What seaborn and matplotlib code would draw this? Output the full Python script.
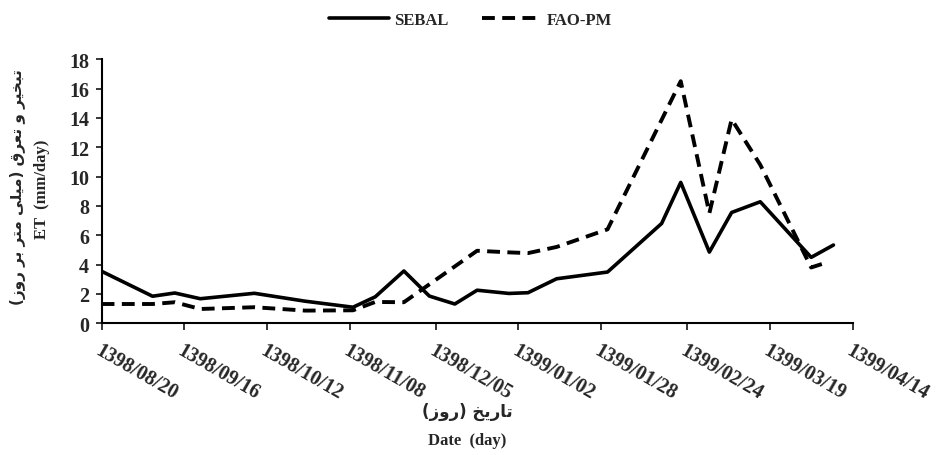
# =========================
# IMPORT LIBRARIES
# =========================

import pandas as pd
import matplotlib.pyplot as plt
import seaborn as sns

# =========================
# DATA (days after 1398/08/20)
# =========================

sebal_days = [0, 16, 23, 31, 48, 64, 79, 86, 95, 103, 111, 118, 128,
              134, 143, 159, 176, 182, 191, 198, 207, 223, 230]
sebal_et = [3.54, 1.84, 2.06, 1.67, 2.04, 1.5, 1.09, 1.8, 3.56, 1.85, 1.31,
            2.25, 2.03, 2.08, 3.03, 3.49, 6.8, 9.6, 4.85, 7.55, 8.28, 4.49, 5.33]

fao_days = [0, 16, 23, 31, 48, 64, 79, 86, 95, 118, 128,
            134, 143, 159, 182, 191, 198, 207, 223, 228]
fao_et = [1.31, 1.31, 1.43, 0.97, 1.09, 0.86, 0.88, 1.45, 1.43, 4.94, 4.83,
          4.78, 5.2, 6.4, 16.5, 7.5, 13.9, 10.8, 3.8, 4.15]

tick_days = [0, 26, 52, 78, 105, 131, 157, 184, 210, 236]
tick_labels = ["1398/08/20", "1398/09/16", "1398/10/12", "1398/11/08",
               "1398/12/05", "1399/01/02", "1399/01/28", "1399/02/24",
               "1399/03/19", "1399/04/14"]

y_ticks = list(range(0, 19, 2))

ylabel_fa = "تبخیر و تعرق (میلی متر بر روز)"
ylabel_en = "ET  (mm/day)"
xlabel_fa = "تاریخ (روز)"
xlabel_en = "Date  (day)"

# =========================
# SIMPLE PERSIAN SHAPING (matplotlib has no RTL support)
# =========================

# isolated, final, initial, medial
forms = {
    "ا": ("\uFE8D", "\uFE8E", None, None),
    "ب": ("\uFE8F", "\uFE90", "\uFE91", "\uFE92"),
    "ت": ("\uFE95", "\uFE96", "\uFE97", "\uFE98"),
    "خ": ("\uFEA5", "\uFEA6", "\uFEA7", "\uFEA8"),
    "ر": ("\uFEAD", "\uFEAE", None, None),
    "ز": ("\uFEAF", "\uFEB0", None, None),
    "ع": ("\uFEC9", "\uFECA", "\uFECB", "\uFECC"),
    "ق": ("\uFED5", "\uFED6", "\uFED7", "\uFED8"),
    "ل": ("\uFEDD", "\uFEDE", "\uFEDF", "\uFEE0"),
    "م": ("\uFEE1", "\uFEE2", "\uFEE3", "\uFEE4"),
    "و": ("\uFEED", "\uFEEE", None, None),
    "ی": ("\uFEEF", "\uFEF0", "\uFEF3", "\uFEF4"),
}


def shape_fa(text):
    out = []
    for i, ch in enumerate(text):
        if ch not in forms:
            out.append(ch)
            continue
        prev = text[i - 1] if i > 0 else ""
        nxt = text[i + 1] if i + 1 < len(text) else ""
        join_prev = prev in forms and forms[prev][2] is not None
        join_next = forms[ch][2] is not None and nxt in forms
        f = forms[ch]
        if join_prev and join_next:
            out.append(f[3])
        elif join_prev:
            out.append(f[1])
        elif join_next:
            out.append(f[2])
        else:
            out.append(f[0])
    visual = "".join(reversed(out))
    return visual.translate(str.maketrans("()", ")("))


# =========================
# PLOT
# =========================

sns.set_style("ticks")
plt.rcParams['font.family'] = ['Liberation Serif', 'DejaVu Sans']

fig = plt.figure(figsize=(9.41, 4.56), dpi=100)
ax = fig.add_axes([0.108, 0.289, 0.798, 0.579])

sns.lineplot(x=sebal_days, y=sebal_et, ax=ax, color="black",
             linewidth=2.6, label="SEBAL")
sns.lineplot(x=fao_days, y=fao_et, ax=ax, color="black",
             linewidth=2.8, linestyle=(0, (3.3, 1.9)), label="FAO-PM")

ax.set_xlim(0, 236)
ax.set_ylim(0, 18)
ax.set_yticks(y_ticks)
ax.set_xticks(tick_days)
ax.set_xticklabels(tick_labels, rotation=-30, ha="left",
                   rotation_mode="anchor", fontsize=14.5, fontweight="bold")
ax.set_yticklabels([str(v) for v in y_ticks], fontsize=14.5,
                   fontweight="bold")
ax.tick_params(axis="x", direction="out", length=5, width=1.3, pad=7)
ax.tick_params(axis="y", direction="out", length=4, width=1.3, pad=5)

for side in ["top", "right"]:
    ax.spines[side].set_visible(False)
for side in ["left", "bottom"]:
    ax.spines[side].set_linewidth(1.5)
    ax.spines[side].set_color("black")

ax.set_xlabel("")
ax.set_ylabel("")

# legend on top
ax.legend(loc="upper center", bbox_to_anchor=(0.5, 1.005),
          bbox_transform=fig.transFigure, ncol=2, frameon=False,
          handlelength=3.6, columnspacing=2.0, handletextpad=0.3,
          prop={"weight": "bold", "size": 12})

# axis titles
fig.text(0.019, 0.59, shape_fa(ylabel_fa), rotation=90, ha="center",
         va="center", fontsize=11, fontweight="bold",
         family=["DejaVu Sans"])
fig.text(0.045, 0.585, ylabel_en, rotation=90, ha="center", va="center",
         fontsize=12, fontweight="bold")
fig.text(0.497, 0.096, shape_fa(xlabel_fa), ha="center", va="center",
         fontsize=12, fontweight="bold", family=["DejaVu Sans"])
fig.text(0.497, 0.033, xlabel_en, ha="center", va="center",
         fontsize=12, fontweight="bold")

plt.savefig("out.png", dpi=100)
